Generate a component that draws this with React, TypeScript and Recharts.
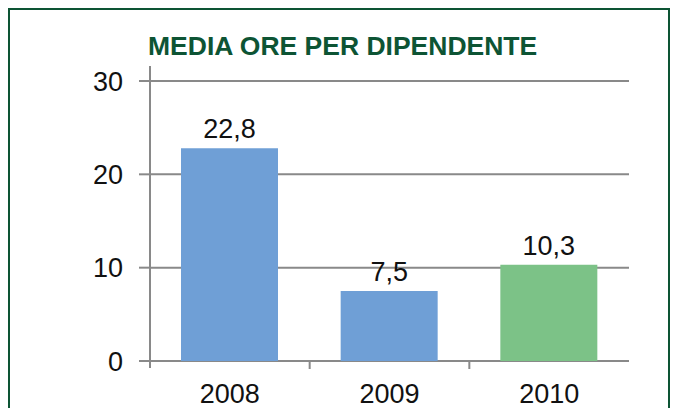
import { BarChart, Bar, XAxis, YAxis, CartesianGrid, Cell, LabelList, ReferenceLine } from "recharts";

const anni = ["2008", "2009", "2010"];
const oreMedie = [22.8, 7.5, 10.3];
const yTicks = [0, 10, 20, 30];
const coloriBarre = ["#6f9fd6", "#6f9fd6", "#7cc287"];

const data = anni.map((anno, i) => ({ anno, ore: oreMedie[i], pos: i }));

const FONT = "'Liberation Sans', Arial, Helvetica, sans-serif";
const GRIGIO = "#898989";
const TESTO = { fontSize: 27, fill: "#111", fontFamily: FONT };

const App = () => {
  return (
    <div style={{ position: "fixed", left: 0, top: 0, width: 678, height: 408, background: "#fff", fontFamily: FONT }}>
      <div
        style={{
          position: "absolute",
          left: 8,
          top: 8,
          width: 662,
          height: 420,
          border: "2px solid #0d5434",
          boxSizing: "border-box",
        }}
      />
      <div
        style={{
          position: "absolute",
          left: 148,
          top: 31,
          fontSize: 26.5,
          fontWeight: "bold",
          color: "#0d5434",
          whiteSpace: "nowrap",
        }}
      >
        MEDIA ORE PER DIPENDENTE
      </div>
      <div style={{ position: "absolute", left: 0, top: 0 }}>
        <BarChart width={678} height={408} data={data} margin={{ top: 81, right: 49, bottom: 6, left: 90 }}>
          <CartesianGrid horizontal vertical={false} stroke={GRIGIO} strokeWidth={2} />
          {/* asse "tacche": solo i segni tra le categorie */}
          <XAxis
            xAxisId={0}
            type="number"
            dataKey="pos"
            domain={[0, 3]}
            ticks={[1, 2]}
            height={1}
            axisLine={false}
            tickSize={8}
            tickLine={{ stroke: GRIGIO, strokeWidth: 2 }}
            tickFormatter={() => ""}
          />
          <XAxis
            xAxisId={1}
            dataKey="anno"
            height={40}
            axisLine={false}
            tickLine={false}
            tickSize={0}
            tickMargin={22}
            tick={TESTO}
          />
          <YAxis
            width={60}
            domain={[0, 30]}
            ticks={yTicks}
            tickSize={11}
            tickMargin={16}
            axisLine={false}
            tickLine={{ stroke: GRIGIO, strokeWidth: 2 }}
            tick={TESTO}
          />
          <ReferenceLine
            xAxisId={0}
            segment={[
              { x: 0, y: -0.75 },
              { x: 0, y: 31.6 },
            ]}
            ifOverflow="visible"
            stroke={GRIGIO}
            strokeWidth={2}
          />
          <Bar dataKey="ore" xAxisId={1} barSize={97} isAnimationActive={false}>
            {data.map((d, i) => (
              <Cell key={d.anno} fill={coloriBarre[i]} />
            ))}
            <LabelList
              dataKey="ore"
              position="top"
              offset={10}
              formatter={(v: any) => String(v).replace(".", ",")}
              style={TESTO}
            />
          </Bar>
        </BarChart>
      </div>
    </div>
  );
};

export default App;
